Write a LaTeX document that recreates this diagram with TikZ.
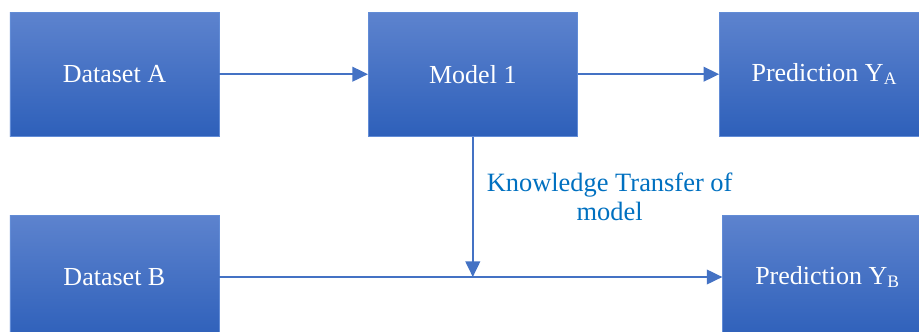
\documentclass[tikz,border=0pt]{standalone}
\usepackage{fontspec}
\setmainfont{Liberation Serif}
\usetikzlibrary{positioning, calc, arrows.meta, shadings}
\definecolor{lineablu}{RGB}{68,114,196}
\definecolor{bordoblu}{RGB}{98,140,214}
\definecolor{testoblu}{RGB}{0,112,192}
\definecolor{altoblu}{RGB}{93,131,206}
\definecolor{bassoblu}{RGB}{46,96,186}
\newcommand{\pedice}[1]{\raisebox{-0.12em}{\fontsize{12.5}{14}\selectfont #1}}

\begin{document}
\begin{tikzpicture}[
    blocco/.style={draw=bordoblu, line width=0.5pt, top color=altoblu, bottom color=bassoblu,
        minimum width=5.225cm, minimum height=3.1cm, inner sep=0pt, text=white,
        font=\fontsize{18.5}{22}\selectfont},
    freccia/.style={draw=lineablu, line width=1pt, -{Triangle[length=0.39cm,width=0.37cm]}}
    ]
        \useasboundingbox (0,0) rectangle (22.975,8.275);
        \clip (0,0) rectangle (22.975,8.275);
        %blocchi in alto
        \node[blocco] (dsA) at (2.86,6.42) {Dataset A};
        \node[blocco] (model) at (11.82,6.42) {Model 1};
        \node[blocco] (predA) at (20.6,6.42) {Prediction Y\pedice{A}};
        %blocchi in basso
        \node[blocco] (dsB) at (2.86,1.35) {Dataset B};
        \node[blocco] (predB) at (20.68,1.35) {Prediction Y\pedice{B}};
        %frecce in alto
        \draw[freccia] (dsA) -- (model);
        \draw[freccia] (model) -- (predA);
        %freccia in basso
        \draw[freccia] (dsB) -- (predB);
        %trasferimento
        \coordinate (innesto) at (model.south |- dsB.east);
        \draw[freccia] (model.south) -- (innesto);
        \node[text=testoblu, align=center, font=\fontsize{18.8}{21}\selectfont] (kt) at (15.24,3.35) {Knowledge Transfer of\\model};
    \end{tikzpicture}
\end{document}
